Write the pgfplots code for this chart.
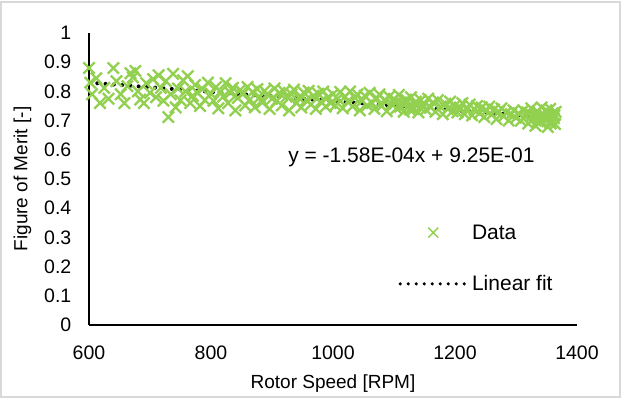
\documentclass[border=0pt]{standalone}
\usepackage{pgfplots}
\pgfplotsset{compat=1.18}
\usepackage{fontspec}
\setmainfont{Liberation Sans}
\definecolor{dgreen}{HTML}{92D050}
\definecolor{bordergray}{HTML}{D9D9D9}
\begin{document}
\begin{tikzpicture}[x=1pt,y=1pt]
\useasboundingbox (-89,-74) rectangle (533,325);
\draw[bordergray, line width=1.2pt] (-88,-72) rectangle (531,323);
\begin{axis}[
  at={(0,0)}, anchor=south west,
  scale only axis, width=488pt, height=292pt,
  xmin=600, xmax=1400, ymin=0, ymax=1,
  xtick={600,800,...,1400}, ytick={0,0.1,...,1.0},
  axis x line=bottom, axis y line=left,
  axis line style={line width=1.2pt, -},
  tick style={draw=none},
  /pgf/number format/assume math mode=true,
  /pgf/number format/1000 sep={},
  yticklabel style={/pgf/number format/fixed, /pgf/number format/precision=1},
  ticklabel style={font=\fontsize{19.5}{22}\selectfont},
  xticklabel style={yshift=-15pt},
  yticklabel style={xshift=-12pt},
  label style={font=\fontsize{19}{22}\selectfont},
  xlabel={Rotor Speed [RPM]},
  ylabel={Figure of Merit [-]},
  xlabel style={yshift=-8pt},
  ylabel style={yshift=6pt},
  legend style={draw=none, fill=none, at={(axis cs:1107,0.228)}, anchor=west,
    font=\fontsize{21}{24}\selectfont, row sep=31pt, inner sep=0pt},
  legend cell align=left,
]
\addplot[only marks, mark=x, mark size=8pt, dgreen, line width=2.3pt,
  legend image code/.code={\draw[dgreen, line width=1.4pt] (30pt,-5pt) -- (40pt,5pt) (30pt,5pt) -- (40pt,-5pt);}]
coordinates {
(600,0.880)(602,0.830)(605,0.790)(612,0.845)(618,0.760)(625,0.812)(632,0.775)(640,0.880)(645,0.835)(652,0.790)
(658,0.760)(663,0.818)(668,0.862)(672,0.848)(676,0.870)(680,0.800)(684,0.772)(690,0.760)(694,0.828)(700,0.795)
(705,0.842)(710,0.780)(714,0.855)(718,0.812)(722,0.768)(726,0.835)(730,0.712)(734,0.790)(738,0.860)(742,0.745)
(746,0.810)(750,0.770)(754,0.838)(758,0.800)(762,0.852)(766,0.760)(770,0.785)(774,0.822)(778,0.795)(782,0.750)
(786,0.808)(790,0.770)(795,0.830)(800,0.792)
(804,0.768)(808,0.815)(812,0.742)(816,0.800)(820,0.782)(824,0.828)(828,0.760)(832,0.795)(836,0.812)(840,0.735)
(844,0.778)(848,0.805)(852,0.790)(856,0.752)(860,0.815)(864,0.772)(868,0.798)(872,0.745)(876,0.808)(880,0.780)
(884,0.762)(888,0.802)(892,0.790)(896,0.740)(900,0.775)(904,0.810)(908,0.768)(912,0.795)(916,0.752)(920,0.800)
(924,0.782)(928,0.735)(932,0.790)(936,0.806)(940,0.760)(944,0.778)(948,0.745)(952,0.796)(956,0.770)(960,0.802)
(964,0.755)(968,0.785)(972,0.740)(976,0.792)(980,0.765)(984,0.800)(988,0.748)(992,0.780)(996,0.760)
(1000,0.790)(1004,0.752)(1008,0.775)(1012,0.798)(1016,0.742)(1020,0.782)(1024,0.765)(1028,0.800)(1032,0.748)(1036,0.778)
(1040,0.790)(1044,0.735)(1048,0.768)(1052,0.785)(1056,0.752)(1060,0.795)(1064,0.760)(1068,0.740)(1072,0.776)(1076,0.790)
(1080,0.750)(1084,0.770)(1088,0.732)(1092,0.782)(1096,0.758)(1100,0.775)(1104,0.742)(1108,0.788)(1112,0.762)(1116,0.730)
(1120,0.772)(1124,0.750)(1128,0.780)(1132,0.740)(1136,0.765)(1140,0.728)(1144,0.770)(1148,0.752)(1152,0.738)(1156,0.775)
(1160,0.745)(1164,0.762)(1168,0.730)(1172,0.770)(1176,0.748)(1180,0.722)(1184,0.758)(1188,0.740)(1192,0.765)(1196,0.732)
(1102,0.760)(1110,0.748)(1118,0.755)(1126,0.738)(1134,0.758)(1142,0.745)
(1200,0.752)(1204,0.728)(1208,0.745)(1212,0.760)(1216,0.722)(1220,0.740)(1224,0.755)(1228,0.718)(1232,0.738)(1236,0.750)
(1240,0.725)(1244,0.745)(1248,0.712)(1252,0.735)(1256,0.748)(1260,0.720)(1264,0.738)(1268,0.705)(1272,0.730)(1276,0.742)
(1280,0.715)(1284,0.728)(1288,0.700)(1292,0.722)(1296,0.735)(1300,0.710)(1304,0.725)(1308,0.700)(1312,0.735)(1316,0.715)
(1320,0.690)(1322,0.725)(1325,0.742)(1328,0.705)(1330,0.720)(1332,0.682)(1335,0.732)(1338,0.712)(1340,0.695)(1342,0.745)
(1345,0.722)(1348,0.700)(1350,0.735)(1352,0.678)(1354,0.715)(1356,0.740)(1358,0.698)(1360,0.725)(1362,0.708)(1364,0.688)
(1365,0.730)(1363,0.718)(1357,0.690)(1346,0.710)(1336,0.698)(1326,0.718)(1318,0.728)
};
\addlegendentry{Data}
\addplot[black, line width=4pt, line cap=round, dash pattern=on 0pt off 8.3pt,
  legend image code/.code={\draw[black, line width=3.6pt, line cap=round, dash pattern=on 0pt off 8pt] (2pt,0pt) -- (70pt,0pt);}]
coordinates {(600,0.830) (1365,0.7093)};
\addlegendentry{Linear fit}
\node[font=\fontsize{21}{24}\selectfont] at (axis cs:1128.6,0.575) {y = -1.58E-04x + 9.25E-01};
\end{axis}
\end{tikzpicture}
\end{document}
